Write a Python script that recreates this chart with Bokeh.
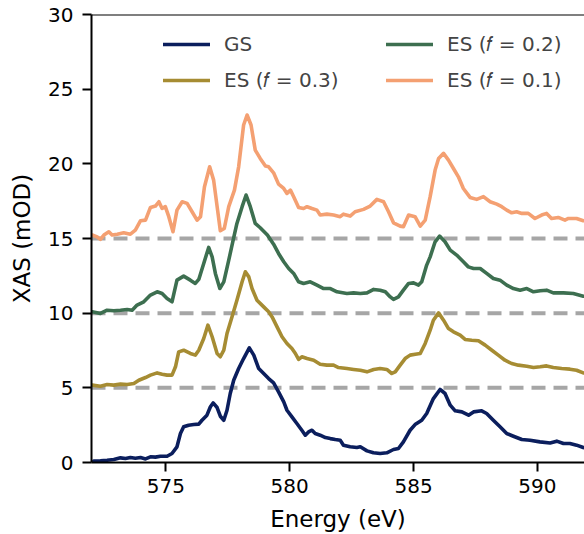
from bokeh.plotting import figure
from bokeh.models import Range1d, FixedTicker, Span, Legend, LegendItem
from bokeh.embed import file_html
from bokeh.resources import INLINE

# ---------------- data ----------------
labels = ["GS", "ES (\U0001D453 = 0.3)", "ES (\U0001D453 = 0.2)", "ES (\U0001D453 = 0.1)"]
colors = ["#0b1e5d", "#a68c33", "#3d6f50", "#f4a072"]
baselines = [5, 10, 15]
x_ticks = [575, 580, 585, 590]
y_ticks = [0, 5, 10, 15, 20, 25, 30]
x_label = "Energy (eV)"
y_label = "XAS (mOD)"

gs_e = [572.09, 572.36, 572.63, 572.90, 573.17, 573.37, 573.57, 573.77, 573.98, 574.18,
        574.38, 574.58, 574.78, 575.05, 575.25, 575.45, 575.59, 575.72, 575.92, 576.13,
        576.33, 576.46, 576.66, 576.80, 576.91, 577.07, 577.20, 577.34, 577.47, 577.60,
        577.74, 577.94, 578.14, 578.37, 578.55, 578.75, 578.95, 579.15, 579.35, 579.55,
        579.76, 579.89, 580.09, 580.29, 580.49, 580.63, 580.76, 580.90, 581.03, 581.23,
        581.44, 581.64, 581.84, 582.04, 582.17, 582.44, 582.71, 582.85, 583.12, 583.38,
        583.65, 583.92, 584.19, 584.39, 584.59, 584.86, 585.06, 585.33, 585.53, 585.80,
        586.07, 586.27, 586.48, 586.68, 586.95, 587.22, 587.42, 587.75, 587.95, 588.22,
        588.49, 588.76, 589.03, 589.37, 589.70, 590.10, 590.51, 590.78, 591.05, 591.31,
        591.58, 591.85]
gs_y = [0.09, 0.11, 0.15, 0.20, 0.31, 0.27, 0.33, 0.29, 0.33, 0.24,
        0.38, 0.36, 0.42, 0.42, 0.60, 1.05, 1.94, 2.39, 2.50, 2.54,
        2.57, 2.83, 3.17, 3.73, 3.99, 3.68, 3.10, 2.83, 3.50, 4.62,
        5.51, 6.29, 6.96, 7.68, 7.19, 6.29, 5.96, 5.62, 5.33, 4.73,
        4.06, 3.50, 3.06, 2.61, 2.16, 1.83, 2.05, 2.16, 1.94, 1.83,
        1.67, 1.60, 1.54, 1.49, 1.16, 1.05, 1.00, 1.05, 0.78, 0.65,
        0.60, 0.65, 0.87, 0.94, 1.38, 2.16, 2.54, 2.83, 3.28, 4.28,
        4.89, 4.62, 3.84, 3.46, 3.39, 3.17, 3.39, 3.46, 3.28, 2.83,
        2.39, 1.94, 1.76, 1.54, 1.49, 1.38, 1.31, 1.43, 1.27, 1.27,
        1.16, 1.00]

es3_e = [572.03, 572.36, 572.63, 572.90, 573.17, 573.44, 573.71, 573.91, 574.18, 574.38,
         574.65, 574.85, 575.05, 575.25, 575.39, 575.52, 575.72, 575.99, 576.19, 576.33,
         576.53, 576.70, 576.87, 577.07, 577.20, 577.34, 577.47, 577.67, 577.87, 578.08,
         578.21, 578.35, 578.48, 578.68, 578.95, 579.15, 579.29, 579.49, 579.69, 579.89,
         580.09, 580.23, 580.36, 580.49, 580.70, 580.97, 581.23, 581.50, 581.77, 581.97,
         582.31, 582.58, 582.85, 583.12, 583.39, 583.65, 583.92, 584.12, 584.26, 584.46,
         584.66, 584.86, 585.07, 585.27, 585.47, 585.67, 585.80, 586.01, 586.21, 586.41,
         586.61, 586.88, 587.08, 587.35, 587.62, 587.89, 588.16, 588.42, 588.69, 588.96,
         589.23, 589.57, 589.84, 590.11, 590.37, 590.64, 590.98, 591.31, 591.58, 591.85]
es3_y = [5.18, 5.11, 5.22, 5.18, 5.25, 5.22, 5.29, 5.51, 5.69, 5.85,
         6.00, 5.91, 5.85, 5.85, 6.41, 7.41, 7.52, 7.30, 7.19, 7.52,
         8.30, 9.20, 8.42, 7.30, 7.08, 7.52, 8.64, 9.75, 10.87, 12.10,
         12.77, 12.43, 11.65, 10.87, 10.42, 10.09, 9.75, 9.08, 8.42, 7.97,
         7.63, 7.30, 6.90, 7.08, 6.96, 6.85, 6.58, 6.52, 6.52, 6.36,
         6.29, 6.23, 6.18, 6.07, 6.23, 6.29, 6.23, 5.96, 6.07, 6.52,
         6.96, 7.19, 7.25, 7.30, 7.97, 8.86, 9.53, 10.02, 9.53, 8.97,
         8.75, 8.53, 8.24, 8.19, 8.15, 7.86, 7.52, 7.19, 6.85, 6.63,
         6.52, 6.45, 6.36, 6.41, 6.47, 6.36, 6.29, 6.25, 6.18, 6.00]

es2_e = [572.03, 572.36, 572.63, 572.90, 573.17, 573.44, 573.64, 573.84, 574.11, 574.38,
         574.65, 574.85, 575.05, 575.25, 575.45, 575.72, 575.99, 576.19, 576.33, 576.53,
         576.73, 576.87, 577.00, 577.18, 577.34, 577.54, 577.70, 577.87, 578.08, 578.24,
         578.41, 578.61, 578.81, 579.10, 579.35, 579.55, 579.76, 579.96, 580.16, 580.36,
         580.56, 580.83, 581.10, 581.37, 581.64, 581.91, 582.31, 582.58, 582.85, 583.12,
         583.39, 583.65, 583.86, 584.06, 584.19, 584.39, 584.59, 584.80, 585.00, 585.20,
         585.33, 585.53, 585.67, 585.87, 586.05, 586.27, 586.48, 586.74, 587.01, 587.21,
         587.42, 587.69, 587.95, 588.22, 588.49, 588.76, 589.03, 589.30, 589.57, 589.84,
         590.11, 590.37, 590.64, 591.05, 591.45, 591.85]
es2_y = [10.09, 9.98, 10.20, 10.16, 10.20, 10.25, 10.20, 10.54, 10.76, 11.21,
         11.43, 11.32, 10.98, 10.76, 12.21, 12.48, 12.21, 11.99, 12.26, 13.33,
         14.40, 13.77, 12.66, 11.65, 12.10, 13.55, 14.75, 16.01, 17.13, 17.91,
         17.13, 16.01, 15.72, 15.23, 14.62, 14.00, 13.44, 12.99, 12.66, 12.10,
         11.99, 12.10, 11.88, 11.65, 11.65, 11.43, 11.32, 11.36, 11.32, 11.36,
         11.59, 11.54, 11.43, 11.09, 10.92, 11.09, 11.54, 11.99, 12.03, 11.88,
         12.10, 13.22, 13.77, 14.78, 15.16, 14.78, 14.22, 13.89, 13.44, 13.10,
         12.99, 12.99, 12.66, 12.32, 12.21, 11.88, 11.65, 11.54, 11.65, 11.43,
         11.50, 11.54, 11.36, 11.36, 11.32, 11.14]

es1_e = [572.03, 572.23, 572.36, 572.50, 572.70, 572.83, 573.04, 573.30, 573.57, 573.77,
         573.98, 574.18, 574.38, 574.58, 574.72, 574.85, 574.98, 575.12, 575.29, 575.45,
         575.66, 575.86, 576.06, 576.26, 576.40, 576.56, 576.77, 576.93, 577.09, 577.20,
         577.36, 577.54, 577.77, 577.94, 578.14, 578.28, 578.44, 578.61, 578.81, 579.02,
         579.15, 579.35, 579.55, 579.76, 579.89, 580.03, 580.16, 580.36, 580.56, 580.70,
         580.90, 581.10, 581.23, 581.50, 581.77, 582.04, 582.17, 582.44, 582.64, 582.98,
         583.25, 583.52, 583.79, 583.99, 584.19, 584.46, 584.59, 584.80, 585.06, 585.27,
         585.47, 585.67, 585.87, 586.01, 586.21, 586.41, 586.61, 586.81, 587.01, 587.28,
         587.55, 587.82, 588.09, 588.36, 588.56, 588.76, 588.96, 589.16, 589.37, 589.63,
         589.90, 590.17, 590.37, 590.57, 590.84, 591.11, 591.25, 591.58, 591.85]
es1_y = [15.23, 15.11, 14.94, 15.23, 15.45, 15.23, 15.29, 15.38, 15.29, 15.56,
         16.19, 16.23, 17.08, 17.17, 17.46, 17.01, 17.13, 16.46, 15.45, 16.90,
         17.46, 17.35, 16.79, 16.23, 16.46, 18.47, 19.80, 18.91, 16.90, 15.52,
         15.67, 17.13, 18.24, 19.80, 22.60, 23.27, 22.60, 20.92, 20.36, 19.85,
         19.80, 19.40, 18.64, 18.35, 18.02, 18.24, 17.80, 17.08, 17.01, 17.13,
         17.01, 16.90, 16.57, 16.63, 16.57, 16.46, 16.63, 16.50, 16.79, 16.95,
         17.17, 17.62, 17.46, 16.79, 16.05, 15.83, 15.79, 16.57, 16.46, 15.83,
         16.23, 17.80, 19.58, 20.36, 20.70, 20.25, 19.69, 19.13, 18.35, 17.75,
         17.62, 17.80, 17.46, 17.30, 17.13, 16.90, 16.72, 16.79, 16.68, 16.68,
         16.34, 16.57, 16.68, 16.34, 16.41, 16.23, 16.34, 16.34, 16.19]

series = [(gs_e, gs_y), (es3_e, es3_y), (es2_e, es2_y), (es1_e, es1_y)]

# ---------------- figure ----------------
FONT = "DejaVu Sans"
p = figure(width=584, height=534, x_range=Range1d(572, 591.9), y_range=Range1d(0, 30),
           output_backend="svg", toolbar_location=None,
           min_border_left=91, min_border_right=0, min_border_top=14, min_border_bottom=72)
p.xgrid.visible = False
p.ygrid.visible = False
p.outline_line_color = None
p.background_fill_color = "white"
p.border_fill_color = "white"

for b in baselines:
    p.add_layout(Span(location=b, dimension="width", line_color="#a6a6a6",
                      line_width=4, line_dash="14 8", level="underlay"))
# top spine
p.add_layout(Span(location=y_ticks[-1], dimension="width", line_color="black", line_width=2))

renderers = []
for (e, y), c in zip(series, colors):
    r = p.line(e, y, line_color=c, line_width=3.6, line_join="round", line_cap="round")
    renderers.append(r)

p.xaxis.ticker = FixedTicker(ticks=x_ticks)
p.yaxis.ticker = FixedTicker(ticks=y_ticks)
p.xaxis.axis_label = x_label
p.yaxis.axis_label = y_label
for ax in (p.xaxis, p.yaxis):
    ax.major_label_text_font = FONT
    ax.major_label_text_font_size = "20px"
    ax.major_label_text_color = "black"
    ax.axis_label_text_font = FONT
    ax.axis_label_text_font_size = "23px"
    ax.axis_label_text_font_style = "normal"
    ax.axis_label_text_color = "black"
    ax.major_tick_out = 9
    ax.major_tick_in = 0
    ax.minor_tick_out = 0
    ax.minor_tick_in = 0
    ax.major_tick_line_width = 2
    ax.major_tick_line_color = "black"
    ax.axis_line_width = 2
    ax.axis_line_color = "black"
p.xaxis.major_label_standoff = 7
p.xaxis.axis_label_standoff = 10
p.yaxis.major_label_standoff = 9
p.yaxis.axis_label_standoff = 10

def make_legend(items, loc):
    leg = Legend(items=items, location=loc, padding=0, margin=0,
                 border_line_color=None, background_fill_alpha=0,
                 label_text_font=FONT, label_text_font_size="20px",
                 glyph_width=47, glyph_height=20, label_standoff=14, spacing=12)
    p.add_layout(leg, "center")

make_legend([LegendItem(label=labels[0], renderers=[renderers[0]]),
             LegendItem(label=labels[1], renderers=[renderers[1]])], (72, 370))
make_legend([LegendItem(label=labels[2], renderers=[renderers[2]]),
             LegendItem(label=labels[3], renderers=[renderers[3]])], (295, 370))

open("out.html", "w").write(file_html(p, INLINE))
